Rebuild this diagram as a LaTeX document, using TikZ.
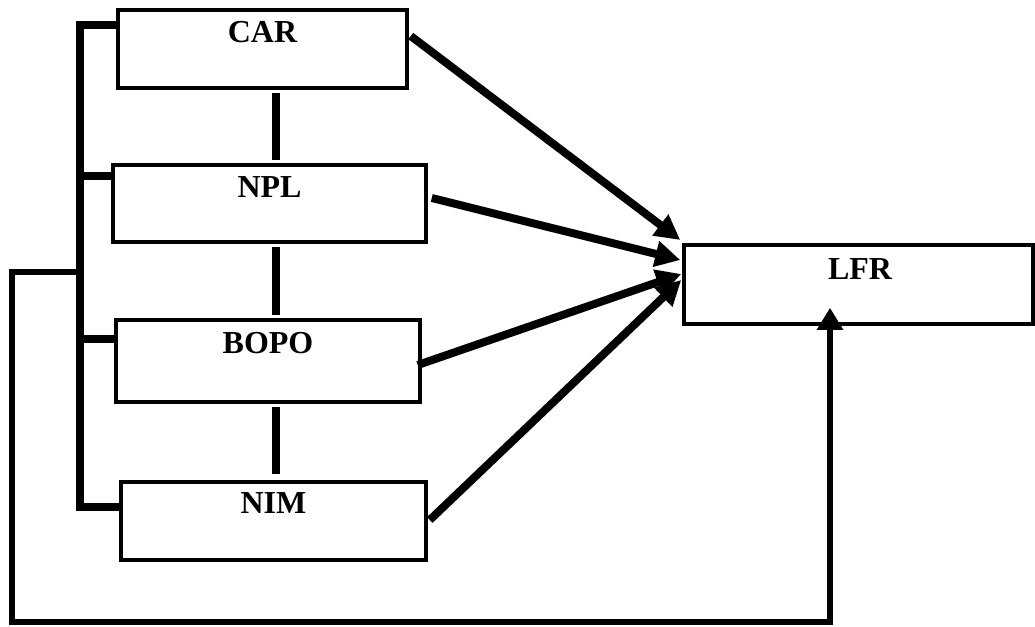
\documentclass[tikz,border=0pt]{standalone}
\usepackage{fontspec}
\setmainfont{Liberation Serif}
\usetikzlibrary{arrows.meta}
\begin{document}
\begin{tikzpicture}[x=1pt,y=-1pt,
  box/.style={draw,line width=3.5pt,minimum width=#1,inner sep=0pt},
  lbl/.style={font=\fontsize{32}{38}\selectfont\bfseries,anchor=north,inner sep=13pt},
  link/.style={line width=7.5pt},
  loopline/.style={line width=6.5pt},
  arr/.style={line width=8pt,-{Triangle[length=25pt,width=25pt]}}]
\useasboundingbox (0,0) rectangle (1035,626);
% boxes
\node[box=289pt,minimum height=78pt] (car) at (262.5,49) {};
\node[box=313pt,minimum height=77pt] (npl) at (269.5,203.5) {};
\node[box=304pt,minimum height=82pt] (bopo) at (268,361) {};
\node[box=305pt,minimum height=78pt] (nim) at (273.5,521) {};
\node[box=349pt,minimum height=79pt] (lfr) at (858.5,284.5) {};
% labels
\node[lbl] (carT) at (car.north) {CAR};
\node[lbl] (nplT) at (npl.north) {NPL};
\node[lbl] (bopoT) at ([yshift=-1pt]bopo.north) {BOPO};
\node[lbl] (nimT) at ([yshift=1pt]nim.north) {NIM};
\node[lbl] (lfrT) at ([yshift=-2pt,xshift=1.5pt]lfr.north) {LFR};
% vertical links
\coordinate (xa) at (276,0);
\draw[link,shorten <=3pt,shorten >=3pt] (car.south -| xa) -- (npl.north -| xa);
\draw[link,shorten <=3pt,shorten >=3pt] (npl.south -| xa) -- (bopo.north -| xa);
\draw[link,shorten <=3pt,shorten >=6pt] (bopo.south -| xa) -- (nim.north -| xa);
% left bracket
\coordinate (t1) at (80,25);
\coordinate (t2) at (80,176);
\coordinate (t3) at (80,339);
\coordinate (t4) at (80,507);
\draw[link] (car.west |- t1) -- (t1) -- (t4) -- (nim.west |- t4);
\draw[link] (t2) -- (npl.west |- t2);
\draw[link] (t3) -- (bopo.west |- t3);
% outer loop
\coordinate (j) at (80,272);
\coordinate (c1) at (12,272);
\coordinate (c2) at (12,622);
\coordinate (c3) at (830,622);
\draw[loopline,-{Triangle[length=22pt,width=25pt]},shorten >=-18pt] (j) -- (c1) -- (c2) -- (c3) -- (c3 |- lfr.south);
% arrows to LFR
\draw[arr] ([yshift=13pt,xshift=2pt]car.east) -- ([yshift=44.5pt,xshift=-2pt]lfr.west);
\draw[arr] ([yshift=5.5pt,xshift=4pt]npl.east) -- ([yshift=24.5pt,xshift=-2pt]lfr.west);
\draw[arr] ([yshift=-4pt,xshift=-4pt]bopo.east) -- ([yshift=10.5pt,xshift=-1pt]lfr.west);
\draw[arr] ([yshift=1pt,xshift=2pt]nim.east) -- ([yshift=4.5pt,xshift=-1pt]lfr.west);
\end{tikzpicture}
\end{document}
